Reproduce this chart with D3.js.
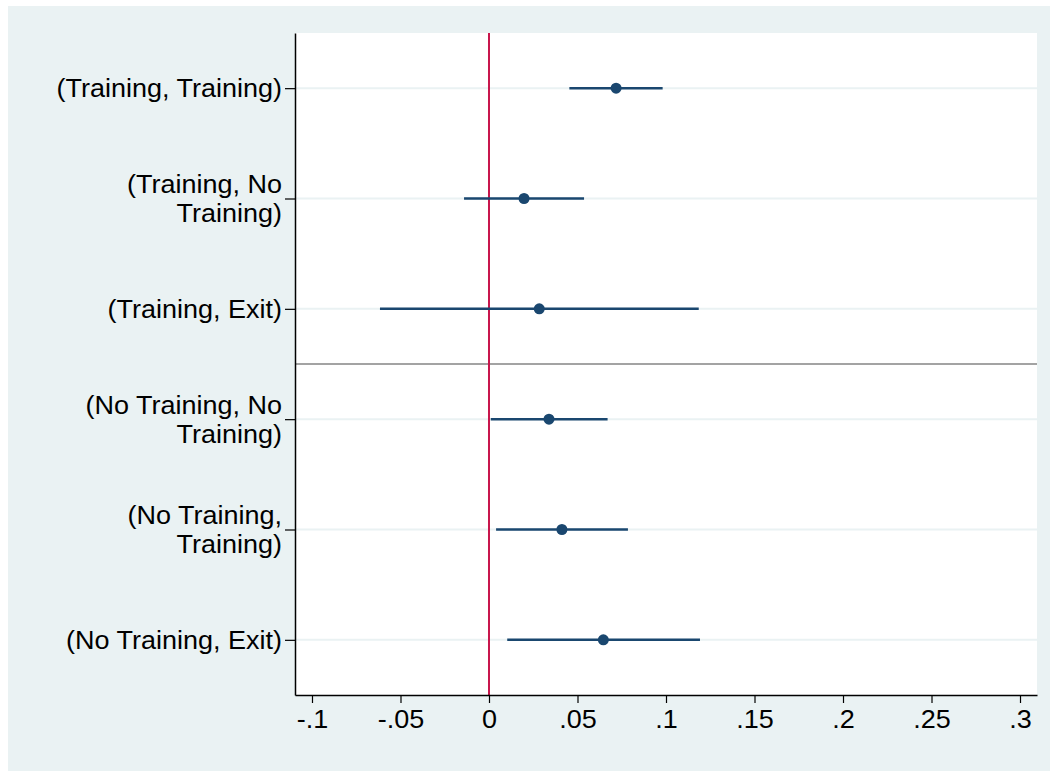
<!DOCTYPE html>
<html>
<head>
<meta charset="utf-8">
<script src="https://cdn.jsdelivr.net/npm/d3@7"></script>
<style>
  body { margin: 0; background: #fff; }
  svg { display: block; }
</style>
</head>
<body>
<svg></svg>
<script>
// categories (label lines) and coefficient estimates with 95% CI
const categories = ['TT', 'TN', 'TE', 'NN', 'NT', 'NE'];
const labelLines = [
    ['(Training, Training)'],
    ['(Training, No', 'Training)'],
    ['(Training, Exit)'],
    ['(No Training, No', 'Training)'],
    ['(No Training,', 'Training)'],
    ['(No Training, Exit)']
];
const estimates = [0.0718, 0.0198, 0.0284, 0.0339, 0.0412, 0.0646];
const lowerCI   = [0.0454, -0.0141, -0.0616, 0.0010, 0.0040, 0.0103];
const upperCI   = [0.0981, 0.0537, 0.1185, 0.0670, 0.0785, 0.1192];
const xTicks = [-0.1, -0.05, 0, 0.05, 0.1, 0.15, 0.2, 0.25, 0.3];

const width = 1052, height = 772;
const svg = d3.select('svg').attr('width', width).attr('height', height);

// outer Stata-style background
svg.append('rect')
    .attr('x', 8).attr('y', 6)
    .attr('width', 1042).attr('height', 765)
    .attr('fill', '#eaf2f3');

const plot = { left: 295, right: 1037, top: 33, bottom: 695 };

svg.append('rect')
    .attr('x', plot.left).attr('y', plot.top)
    .attr('width', plot.right - plot.left).attr('height', plot.bottom - plot.top)
    .attr('fill', '#fff');

const x = d3.scaleLinear()
    .domain([-0.1096, 0.3096])
    .range([plot.left, plot.right]);

const y = d3.scalePoint()
    .domain(categories)
    .range([plot.top, plot.bottom])
    .padding(0.5);

// horizontal gridlines
svg.selectAll('.grid')
    .data(categories)
    .enter()
    .append('line')
    .attr('x1', plot.left).attr('x2', plot.right)
    .attr('y1', d => y(d)).attr('y2', d => y(d))
    .attr('stroke', '#eaf2f3')
    .attr('stroke-width', 2);

// separator between the two groups
const sepY = (y(categories[2]) + y(categories[3])) / 2;
svg.append('line')
    .attr('x1', plot.left).attr('x2', plot.right)
    .attr('y1', sepY).attr('y2', sepY)
    .attr('stroke', '#a3a3a3')
    .attr('stroke-width', 2);

// zero reference line
svg.append('line')
    .attr('x1', x(0)).attr('x2', x(0))
    .attr('y1', plot.top).attr('y2', plot.bottom)
    .attr('stroke', '#c8164c')
    .attr('stroke-width', 2);

// confidence intervals
svg.selectAll('.ci')
    .data(categories)
    .enter()
    .append('line')
    .attr('x1', (d, i) => x(lowerCI[i]))
    .attr('x2', (d, i) => x(upperCI[i]))
    .attr('y1', d => y(d)).attr('y2', d => y(d))
    .attr('stroke', '#1a476f')
    .attr('stroke-width', 2.5);

// point estimates
svg.selectAll('.pt')
    .data(categories)
    .enter()
    .append('circle')
    .attr('cx', (d, i) => x(estimates[i]))
    .attr('cy', d => y(d))
    .attr('r', 5.5)
    .attr('fill', '#1a476f');

const fontFam = '"Liberation Sans", Arial, sans-serif';
const fontSize = '25px';
const stretch = 1.08; // reference text is slightly wide

// x axis
const xAxis = svg.append('g')
    .attr('transform', `translate(0,${plot.bottom})`)
    .call(d3.axisBottom(x)
        .tickValues(xTicks)
        .tickSize(8)
        .tickSizeOuter(0)
        .tickPadding(7)
        .tickFormat(d => d === 0 ? '0' : d3.format('.2~f')(d).replace('0.', '.').replace('\u2212', '-')));
xAxis.select('.domain').attr('stroke', '#000').attr('stroke-width', 1.5);
xAxis.selectAll('.tick line').attr('stroke', '#000').attr('stroke-width', 1.2);
xAxis.selectAll('.tick text')
    .attr('fill', '#000')
    .attr('transform', `scale(${stretch},1)`)
    .style('font-family', fontFam)
    .style('font-size', fontSize);

// y axis
const yAxis = svg.append('g')
    .attr('transform', `translate(${plot.left},0)`)
    .call(d3.axisLeft(y).tickSize(10).tickSizeOuter(0).tickFormat(''));
yAxis.select('.domain').attr('stroke', '#000').attr('stroke-width', 1.5);
yAxis.selectAll('.tick line').attr('stroke', '#000').attr('stroke-width', 1.2);

// multi-line category labels
const lineH = 29;
const labels = svg.selectAll('.ylab')
    .data(categories)
    .enter()
    .append('text')
    .attr('text-anchor', 'end')
    .attr('fill', '#000')
    .attr('transform', d => `translate(${plot.left - 13},${y(d)}) scale(${stretch},1)`)
    .style('font-family', fontFam)
    .style('font-size', fontSize);

labels.each(function(d, i) {
    const lines = labelLines[i];
    const t = d3.select(this);
    const y0 = -(lines.length - 1) * lineH / 2 + 9;
    lines.forEach((s, j) => {
        t.append('tspan')
            .attr('x', 0)
            .attr('y', y0 + j * lineH)
            .text(s);
    });
});
</script>
</body>
</html>
